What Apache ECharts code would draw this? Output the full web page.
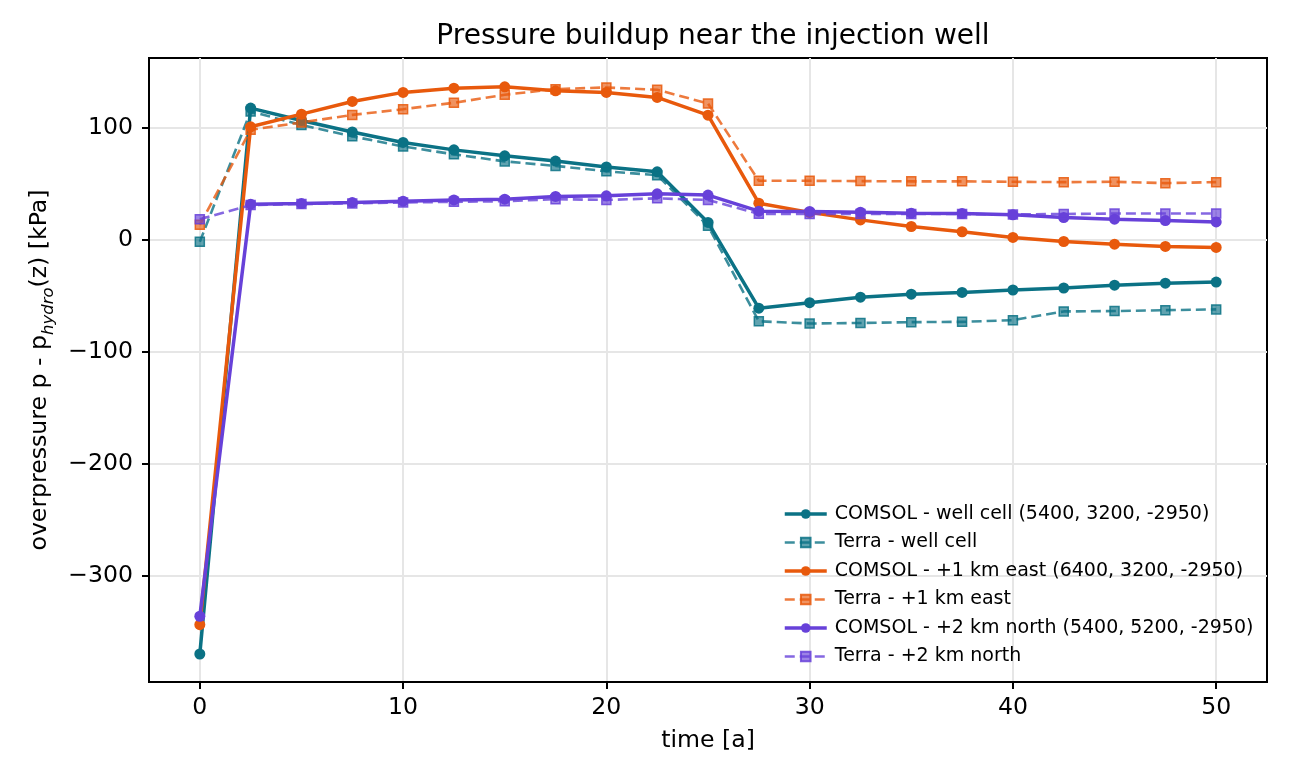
<!DOCTYPE html>
<html>
<head>
<meta charset="utf-8">
<script src="https://cdn.jsdelivr.net/npm/echarts@6/dist/echarts.min.js"></script>
<style>
  html, body { margin: 0; padding: 0; background: #fff; }
  #chart { width: 1292px; height: 781px; }
</style>
</head>
<body>
<div id="chart"></div>
<script>
// time axis [a]
const times = [0, 2.5, 5, 7.5, 10, 12.5, 15, 17.5, 20, 22.5, 25, 27.5, 30, 32.5, 35, 37.5, 40, 42.5, 45, 47.5, 50]

// overpressure [kPa]
const comsolWell = [-370, 117.3, 106.2, 96, 86.6, 80, 74.7, 70, 64.8, 60.4, 15.2, -61.3, -56.4, -51.5, -48.8, -47.3, -45.1, -43.3, -40.8, -39, -38]
const terraWell = [-2.1, 114.3, 102.2, 92.1, 83, 76, 69.7, 65.7, 60.9, 57.4, 12.2, -73, -75, -74.5, -73.8, -73.5, -72, -64.2, -63.9, -63.1, -62.4]
const comsolEast = [-343.8, 100.6, 111.9, 123.2, 131.3, 135.1, 136.3, 132.7, 131.3, 126.8, 111, 32.4, 24.2, 17.5, 11.6, 6.9, 1.8, -1.8, -4.2, -6.2, -7.1]
const terraEast = [13.1, 97.9, 104.5, 111.2, 116.3, 122, 129.2, 134.2, 135.7, 133.6, 121.4, 52.4, 52.4, 52.1, 51.9, 51.9, 51.5, 51.2, 51.5, 50.3, 51.2]
const comsolNorth = [-336.3, 31.5, 32.1, 33, 34.2, 35.3, 36, 38.4, 39, 40.8, 39.6, 25.3, 25, 24.4, 23.5, 23.2, 22, 19.6, 18.1, 16.9, 15.7]
const terraNorth = [18.1, 30.7, 31.7, 32.2, 33, 33.6, 34.2, 36, 35.3, 36.7, 35.3, 22.9, 22.7, 22.7, 22.7, 22.7, 22.4, 22.7, 23.2, 23.2, 23.2]

const xTicks = [0, 10, 20, 30, 40, 50]
const yTicks = [-300, -200, -100, 0, 100]

const names = [
  'COMSOL - well cell (5400, 3200, -2950)',
  'Terra - well cell',
  'COMSOL - +1 km east (6400, 3200, -2950)',
  'Terra - +1 km east',
  'COMSOL - +2 km north (5400, 5200, -2950)',
  'Terra - +2 km north'
]

const FONT = 'DejaVu Sans'
const minus = v => String(v).replace('-', '\u2212')
const pairs = vals => times.map((t, i) => [t, vals[i]])

function rgba(hex, a) {
  const n = parseInt(hex.slice(1), 16)
  return `rgba(${(n >> 16) & 255},${(n >> 8) & 255},${n & 255},${a})`
}

function comsol(name, vals, color) {
  return {
    name: name,
    type: 'line',
    data: pairs(vals),
    symbol: 'circle',
    symbolSize: 11,
    lineStyle: { color: color, width: 3.5 },
    itemStyle: { color: color }
  }
}

function terra(name, vals, color) {
  return {
    name: name,
    type: 'line',
    data: pairs(vals),
    symbol: 'rect',
    symbolSize: 9,
    lineStyle: { color: rgba(color, 0.8), width: 2.6, type: [10, 5] },
    itemStyle: { color: rgba(color, 0.65), borderColor: rgba(color, 0.85), borderWidth: 1.5 }
  }
}

const chart = echarts.init(document.getElementById('chart'))
chart.setOption({
  animation: false,
  backgroundColor: '#fff',
  textStyle: { fontFamily: FONT },
  title: {
    text: 'Pressure buildup near the injection well',
    left: 708,
    top: 18,
    textAlign: 'center',
    textStyle: { fontFamily: FONT, fontSize: 28, fontWeight: 'normal', color: '#000' }
  },
  grid: {
    left: 149, right: 25, top: 58, bottom: 99,
    show: true, borderColor: '#000', borderWidth: 2
  },
  legend: {
    orient: 'vertical',
    left: 778,
    top: 499,
    itemWidth: 42,
    itemHeight: 12,
    itemGap: 8.5,
    data: names,
    lineStyle: { width: 'inherit' },
    textStyle: { fontFamily: FONT, fontSize: 19, color: '#000', lineHeight: 20, padding: [0, 0, 0, 3] }
  },
  xAxis: {
    type: 'value',
    min: -2.5,
    max: 52.5,
    name: 'time [a]',
    nameLocation: 'middle',
    nameGap: 47,
    nameTextStyle: { fontFamily: FONT, fontSize: 23.6, color: '#000' },
    axisLine: { show: true, onZero: false, lineStyle: { color: '#000', width: 2 } },
    axisTick: { show: true, inside: false, length: 7, customValues: xTicks, lineStyle: { color: '#000', width: 2 } },
    axisLabel: {
      customValues: xTicks,
      margin: 14,
      fontFamily: FONT, fontSize: 23.6, color: '#000',
      formatter: minus
    },
    splitLine: { show: true, lineStyle: { color: '#e6e6e6', width: 2 } }
  },
  yAxis: {
    type: 'value',
    min: -395,
    max: 162,
    name: '{n|overpressure p - p}{s|hydro}{n|(z) [kPa]}',
    nameLocation: 'middle',
    nameGap: 92,
    nameTextStyle: {
      fontFamily: FONT, fontSize: 23.6, color: '#000',
      rich: {
        n: { fontFamily: FONT, fontSize: 23.6, color: '#000', lineHeight: 34, verticalAlign: 'middle' },
        s: { fontFamily: FONT, fontSize: 16.5, fontStyle: 'italic', color: '#000', lineHeight: 34, verticalAlign: 'bottom' }
      }
    },
    axisLine: { show: true, onZero: false, lineStyle: { color: '#000', width: 2 } },
    axisTick: { show: true, inside: false, length: 7, customValues: yTicks, lineStyle: { color: '#000', width: 2 } },
    axisLabel: {
      customValues: yTicks,
      margin: 16,
      fontFamily: FONT, fontSize: 23.6, color: '#000',
      formatter: minus
    },
    splitLine: { show: true, lineStyle: { color: '#e6e6e6', width: 2 } }
  },
  series: [
    comsol(names[0], comsolWell, '#0b7285'),
    terra(names[1], terraWell, '#0b7285'),
    comsol(names[2], comsolEast, '#e8590c'),
    terra(names[3], terraEast, '#e8590c'),
    comsol(names[4], comsolNorth, '#6741d9'),
    terra(names[5], terraNorth, '#6741d9')
  ]
})
</script>
</body>
</html>
